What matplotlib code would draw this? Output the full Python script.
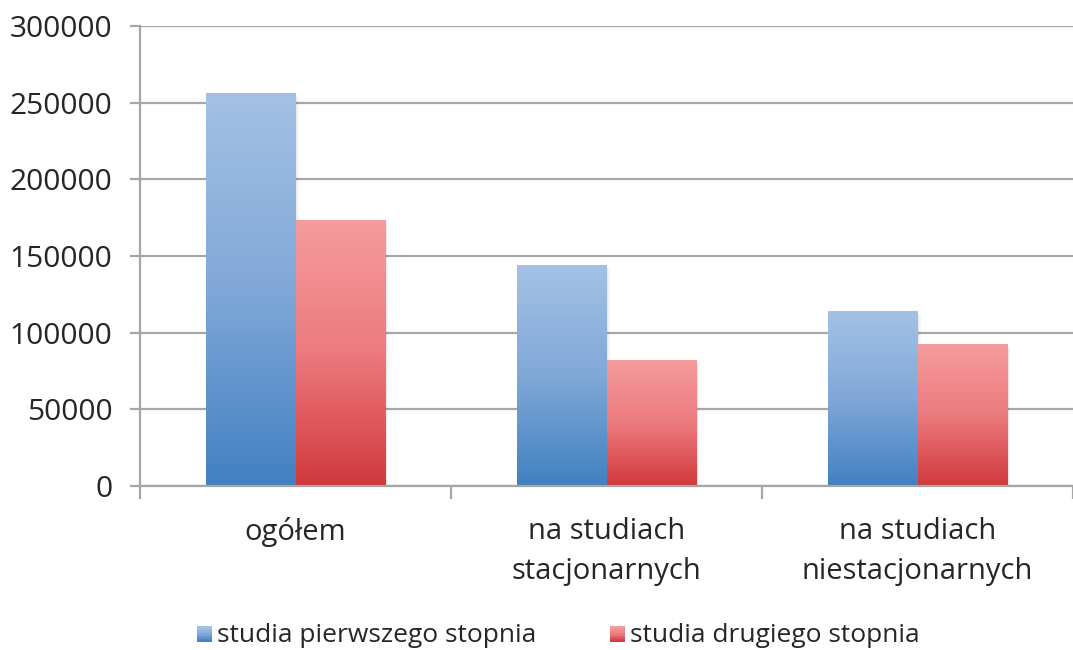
import numpy as np
import matplotlib.pyplot as plt
from matplotlib.patches import Rectangle
from matplotlib.legend_handler import HandlerBase
from matplotlib.colors import LinearSegmentedColormap

# ================= DATA =================

categories = ["ogółem", "na studiach\nstacjonarnych", "na studiach\nniestacjonarnych"]
first_degree = [256000, 144000, 114000]
second_degree = [173500, 82000, 92500]
series_names = ["studia pierwszego stopnia", "studia drugiego stopnia"]
y_ticks = [0, 50000, 100000, 150000, 200000, 250000, 300000]

# ================= STYLE =================

plt.rcParams['font.family'] = ['Open Sans', 'DejaVu Sans']

blue_cmap = LinearSegmentedColormap.from_list("b", ["#4280c2", "#80a8d8", "#a4c1e5"])
red_cmap = LinearSegmentedColormap.from_list("r", ["#d1393c", "#ec7a7e", "#f59c9d"])
grid_col = "#a6a6a6"
text_col = "#262626"


def gradient_bar(ax, x, h, w, cmap):
    # soft shadow
    for k, a in [(0.010, 0.04), (0.006, 0.05)]:
        ax.add_patch(Rectangle((x + k, -k * 250000), w, h, color="#000000",
                               alpha=a, lw=0, zorder=2))
    rect = Rectangle((x, 0), w, h, facecolor="none", lw=0, zorder=3)
    ax.add_patch(rect)
    grad = np.linspace(0, 1, 256).reshape(-1, 1)
    im = ax.imshow(grad, cmap=cmap, aspect="auto", origin="lower",
                   extent=(x, x + w, 0, h), zorder=3, interpolation="bicubic")
    im.set_clip_path(rect)


class GradientHandler(HandlerBase):
    def __init__(self, cmap):
        super().__init__()
        self.cmap = cmap

    def create_artists(self, legend, orig_handle, xdescent, ydescent,
                       width, height, fontsize, trans):
        n = 20
        side = height * 0.8
        x0 = -xdescent + width - side
        y0 = -ydescent + (height - side) / 2 - height * 0.05
        artists = []
        for i in range(n):
            r = Rectangle((x0, y0 + side * i / n), side, side / n + 0.3,
                          color=self.cmap(i / (n - 1)), lw=0, transform=trans)
            artists.append(r)
        return artists


# ================= PLOT =================

fig = plt.figure(figsize=(10.73, 6.5), dpi=100)
ax = fig.add_axes([140 / 1073, 1 - 486 / 650, 1 - 140 / 1073, 460 / 650])

w = 0.288
x = np.arange(len(categories))
for i in range(len(categories)):
    gradient_bar(ax, x[i] - w, first_degree[i], w, blue_cmap)
    gradient_bar(ax, x[i], second_degree[i], w, red_cmap)

ax.set_xlim(-0.5, (1073 - 296) / 313.5)
ax.set_ylim(0, 300000)

ax.set_yticks(y_ticks)
ax.set_yticklabels([str(v) for v in y_ticks])
ax.yaxis.grid(True, color=grid_col, lw=1.6, zorder=1)
ax.set_axisbelow(True)

ax.set_xticks([-0.5, 0.5, 1.5, 2.5])
ax.set_xticklabels([])
ax.set_xticks(x, minor=True)
ax.set_xticklabels(categories, minor=True, linespacing=1.5)

ax.tick_params(axis="y", length=7, width=1.6, color=grid_col, pad=13,
               labelsize=21.5, labelcolor=text_col)
ax.tick_params(axis="x", which="major", length=9, width=1.6, color=grid_col)
ax.tick_params(axis="x", which="minor", length=0, pad=22, labelsize=21,
               labelcolor=text_col)

for s in ["top", "right"]:
    ax.spines[s].set_visible(False)
for s in ["left", "bottom"]:
    ax.spines[s].set_color(grid_col)
    ax.spines[s].set_linewidth(1.6)
ax.spines["bottom"].set_zorder(4)

h1 = Rectangle((0, 0), 1, 1)
h2 = Rectangle((0, 0), 1, 1)
fig.legend([h1, h2], series_names, loc="center", bbox_to_anchor=(556 / 1073, 1 - 636 / 650),
           ncol=2, frameon=False, fontsize=19, handlelength=0.75, handletextpad=0.2,
           columnspacing=2.6, labelcolor=text_col,
           handler_map={h1: GradientHandler(blue_cmap), h2: GradientHandler(red_cmap)})

fig.savefig("out.png", dpi=100)
